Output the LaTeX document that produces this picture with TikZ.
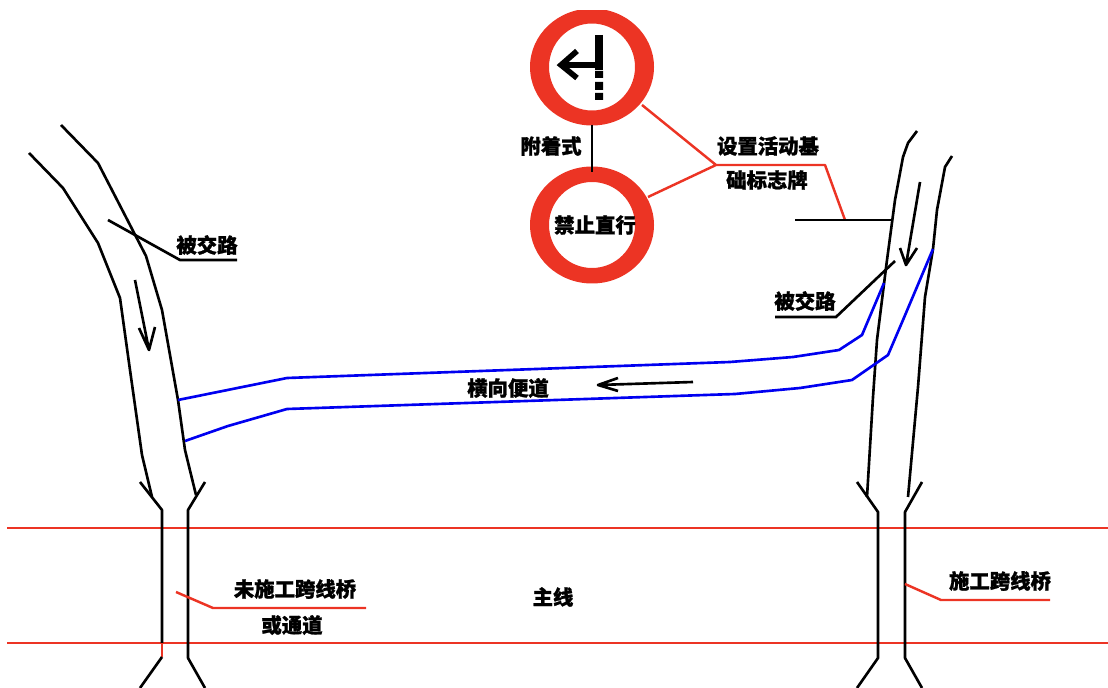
\documentclass[tikz,border=0pt]{standalone}
\usepackage{fontspec}
\newfontfamily\cjk{Noto Sans CJK SC}[BoldFeatures={FakeBold=1.2}]
\definecolor{signred}{RGB}{236,52,36}
\definecolor{roadblue}{RGB}{0,0,240}
\tikzset{
  road/.style={black,line width=1.5pt,line join=round},
  redline/.style={signred,line width=1.4pt,line join=round},
  bluepath/.style={roadblue,line width=1.5pt,line join=round},
  leader/.style={black,line width=1.5pt},
  label/.style={font=\cjk\bfseries\fontsize{11.6}{14}\selectfont,inner sep=0pt},
  ring/.style={signred,even odd rule},
}
\begin{document}
\begin{tikzpicture}[x=0.02cm,y=-0.02cm]
\useasboundingbox (0,0) rectangle (1108,688);
\path (592,67) coordinate (S1) (592,225) coordinate (S2) (592,125) coordinate (S1b) (592,172) coordinate (S2t)
(642,105) coordinate (S1r) (648,197) coordinate (S2r) (716,165) coordinate (J) (825,165) coordinate (K) (845,220) coordinate (M)
(795,220) coordinate (P) (893,220) coordinate (Q);
% signs
\begin{scope}
\clip (0,11) rectangle (1108,688);
\fill[ring] (S1) ellipse [x radius=62,y radius=58.5] (S1) ellipse [x radius=43,y radius=43.5];
\end{scope}
\fill[ring] (S2) ellipse [x radius=62,y radius=58.5] (S2) ellipse [x radius=43,y radius=43];
\draw[line width=4.5pt] (599,35)--(599,70);
\draw[line width=3.2pt] (599,65)--(564,65);
\draw[line width=3.2pt,line join=miter] (577,51)--(561,65)--(577,78);
\fill (595,71) rectangle (603,78) (595,82) rectangle (603,90) (595,93) rectangle (603,100);
\draw[leader] (S1b)--(S2t);
\draw[redline] (S1r)--(J)--(S2r) (J)--(K)--(M);
\draw[leader] (P)--(Q);
% main line
\path (7,528) coordinate (L1) (1108,528) coordinate (R1) (7,643) coordinate (L2) (1108,643) coordinate (R2);
\draw[redline] (L1)--(R1) (L2)--(R2);
% left road
\draw[road] (29,153)--(63,188)--(98,243)--(120,298)--(130,370)--(142,455)--(152,497);
\draw[road] (61,125)--(98,163)--(146,256)--(162,310)--(178,400)--(185,450)--(196,495);
\draw[road] (140,482)--(162,510)--(162,643);
\draw[redline] (162,643)--(162,657);
\draw[road] (162,657)--(140,688);
\draw[road] (205,482)--(188,510)--(188,658)--(205,688);
\draw[road] (135,280)--(149,350) (139,328)--(149,350)--(155,327);
% right road
\draw[road] (917,131)--(908,143)--(903,157)--(895,200)--(887,260)--(877,340)--(873,397)--(867,497);
\draw[road] (952,156)--(945,167)--(937,210)--(933,249)--(925,297)--(918,387)--(908,497);
\draw[road] (857,482)--(878,512)--(878,658)--(857,688);
\draw[road] (922,482)--(905,512)--(905,658)--(922,688);
\draw[road] (920,182)--(906,265) (900,248)--(906,265)--(917,248);
% side road
\draw[bluepath] (178,400)--(287,378)--(730,362)--(793,357)--(839,350)--(862,335)--(884,283);
\draw[bluepath] (185,441)--(228,426)--(287,409)--(735,394)--(800,388)--(852,380)--(888,355)--(903,320)--(933,249);
\draw[road] (693,382)--(598,385) (618,378)--(598,385)--(618,391);
% leaders
\draw[leader] (108,220)--(180,260)--(237,260);
\draw[leader] (895,261)--(836,317)--(775,317);
\draw[redline] (176,592)--(213,608)--(366,608);
\draw[redline] (905,584)--(941,600)--(1050,600);
% labels
\node[label] (tA) at (551,146) {附着式};
\node[label] (tB) at (595,225) {禁止直行};
\node[label] (tC) at (768,146) {设置活动基};
\node[label] (tD) at (767,180) {础标志牌};
\node[label] (tE) at (207,245) {被交路};
\node[label] (tF) at (805,301) {被交路};
\node[label] (tG) at (508,388) {横向便道};
\node[label] (tH) at (295,589) {未施工跨线桥};
\node[label] (tI) at (292,625) {或通道};
\node[label] (tJ) at (553,597) {主线};
\node[label] (tK) at (1000,581) {施工跨线桥};
\end{tikzpicture}
\end{document}
